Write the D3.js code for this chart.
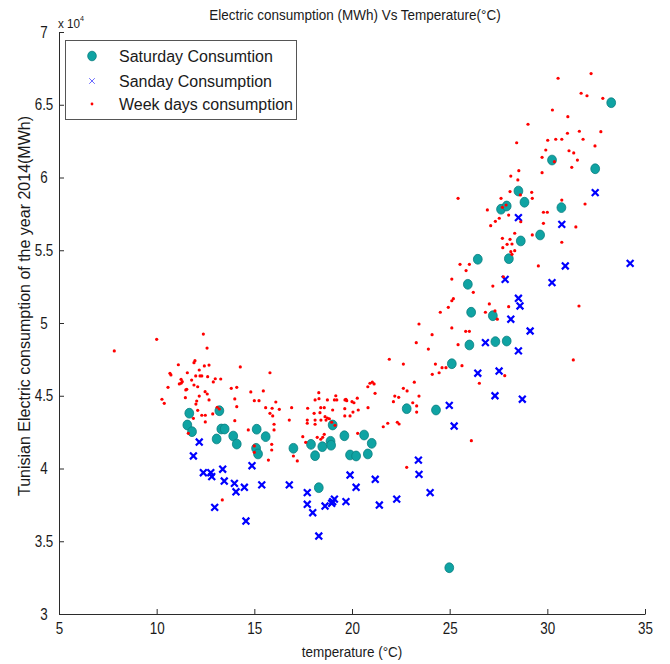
<!DOCTYPE html>
<html>
<head>
<meta charset="utf-8">
<script src="https://cdn.jsdelivr.net/npm/d3@7"></script>
<style>
  body { margin: 0; background: #fff; }
  text { font-family: "Liberation Sans", Arial, sans-serif; fill: #1a1a1a; }
</style>
</head>
<body>
<svg id="chart" width="670" height="664"></svg>
<script>
// [temperature °C, consumption MWh]
const saturday = [
  [11.67,43800],[13.21,43970],[11.57,42990],[11.81,42530],[13.31,42715],[13.48,42715],[13.07,42030],
  [13.92,42230],[14.10,41680],[15.09,41390],[15.19,41000],[15.12,42700],[15.58,42190],[17.00,41390],
  [17.90,41660],[18.11,40880],[18.48,41500],[18.90,41870],[18.93,41600],[19.01,42990],[19.61,42250],
  [18.30,38680],[19.90,40930],[20.21,40860],[20.62,42300],[21.01,41730],[20.81,41000],[22.80,44110],
  [24.30,44020],[24.98,33180],[28.52,59070],[28.83,58300],[27.63,57820],[27.92,58040],[29.63,56050],
  [28.64,55640],[26.44,54380],[28.03,54420],[25.93,52660],[26.10,50740],[27.21,50500],[26.01,48490],
  [27.34,48720],[27.92,48760],[25.11,47200],[33.27,65140],[30.24,61200],[32.45,60600],[30.72,57930]
];

const sunday = [
  [12.18,41820],[11.88,40860],[12.39,39710],[12.77,39710],[12.82,39440],[13.38,39950],[13.46,39140],
  [13.98,38980],[14.06,38400],[14.49,38710],[14.88,40190],[12.97,37330],[14.57,36390],[15.38,38870],
  [16.79,38870],[17.71,38340],[17.71,37540],[17.99,36960],[18.62,37420],[18.96,37610],[19.10,37900],
  [19.01,37720],[18.30,35360],[19.69,37720],[19.90,39550],[20.21,38710],[21.19,39260],[21.40,37490],
  [22.29,37900],[23.40,40580],[23.43,39600],[24.00,38340],[24.98,44340],[25.23,42920],[27.32,45000],
  [28.72,44760],[28.52,57240],[27.84,53000],[28.52,51700],[28.60,51170],[28.13,50260],[29.12,49450],
  [26.83,48650],[28.52,48080],[26.44,46550],[27.53,46700],[30.74,56780],[30.92,53920],[30.24,52770],
  [34.24,54100],[32.45,58960]
];

const weekdays = [
  [7.83,48080],[10.00,48880],[12.39,49240],[12.58,48280],[11.11,47130],[11.96,47410],[11.91,47270],
  [12.44,47050],[12.68,47110],[12.18,46770],[11.57,46580],[10.68,46540],[10.73,46430],[12.00,46360],
  [12.22,46360],[12.31,46360],[12.61,46310],[13.28,46150],[13.00,46170],[11.25,46130],[11.31,45970],
  [11.79,46080],[12.90,45950],[11.25,45860],[11.16,45810],[11.91,45740],[14.28,46980],[12.10,45620],
  [10.58,45580],[11.54,45440],[11.49,45400],[12.48,45280],[12.59,45120],[13.82,45510],[14.10,45580],
  [14.82,45260],[12.18,44980],[11.47,44870],[10.27,44760],[10.39,44480],[12.05,44640],[12.01,44430],
  [12.68,44710],[14.00,44780],[15.00,44660],[15.24,44660],[14.10,44250],[12.10,44000],[13.10,44210],
  [13.21,44090],[12.31,43660],[12.49,43660],[12.87,43750],[11.88,43450],[12.49,43200],[14.00,43290],
  [14.69,42650],[11.62,42420],[15.00,41550],[15.00,41110],[13.36,37840],
  [15.80,46580],[15.46,45330],[16.10,44570],[15.58,44180],[15.91,44140],[16.28,44070],[15.80,43790],
  [15.94,43610],[16.01,43040],[16.01,42650],[16.91,44180],[16.79,43330],[15.89,41660],[15.89,41270],
  [15.72,40580],[17.00,40860],[17.20,40520],[17.48,42190],[17.63,41800],[17.73,44140],[17.71,43330],
  [17.71,43110],[18.11,44710],[18.31,44800],[18.30,45210],[18.06,43790],[18.11,43330],[18.11,43040],
  [18.40,44180],[18.36,43840],[18.41,43330],[18.58,44180],[18.62,43560],[18.74,43470],[18.84,43420],
  [18.67,43330],[18.74,44710],[18.22,42140],[18.40,42010],[18.50,42140],[18.58,42350],[18.96,43180],
  [19.13,42970],[19.10,44710],[19.17,45000],[19.22,44710],[19.01,44020],[19.69,44760],[19.64,44710],
  [19.73,44660],[19.63,44110],[19.63,43610],[19.90,43610],[20.05,43880],[20.00,44590],[20.10,44520],
  [20.27,44830],[20.32,44020],[20.29,42420],[20.82,44180],[20.81,45620],[20.92,45860],[21.04,45930],
  [21.13,45810],[21.18,45170],[21.91,47510],[22.63,47180],[22.19,44980],[22.39,44890],[22.63,45510],
  [22.82,45330],[23.43,44980],[23.31,44300],[23.11,44520],[23.19,45930],[23.29,48650],[23.91,48210],
  [24.10,49200],[24.11,46470],[24.27,47180],[24.46,46580],[21.60,42870],[21.83,43110],[22.80,40080],
  [23.31,43880],[22.12,44590],[22.32,43180],[22.41,43060],[26.11,41910],[26.52,45860],
  [26.93,57770],[27.70,57950],[27.89,58110],[28.02,57420],[27.10,56690],[27.34,56990],[27.54,57200],
  [28.33,56170],[28.09,55750],[27.70,55820],[27.94,55410],[28.19,55430],[27.72,55180],[28.13,54900],
  [28.19,54720],[28.33,54970],[25.53,54030],[26.01,54030],[25.84,53600],[25.11,53020],[26.21,52110],
  [27.21,52540],[27.75,53180],[25.19,51670],[25.11,51530],[24.93,51080],[24.52,50740],[27.03,51310],
  [26.83,50740],[27.32,50830],[27.44,50260],[28.02,51120],[23.43,49930],[25.11,49660],[25.82,49430],
  [26.01,49430],[25.43,48510],[24.61,46930],[24.81,46930],[25.63,47070],[27.82,46380],[25.43,58570],
  [27.63,58570],[28.09,59030],[28.49,59830],[29.20,58980],[29.23,58570],[28.62,58800],[29.80,57610],
  [30.00,57610],[29.80,56850],[28.64,56960],[29.23,56050],[29.54,53920],[31.93,58180],[31.46,56600],
  [30.74,55550],[31.62,51170],[31.33,47460],[30.74,58450],[30.55,66820],[32.24,67140],[31.73,65790],
  [32.03,65620],[32.84,65440],[30.26,64640],[31.05,64180],[29.01,63660],[31.03,63040],[31.64,63180],
  [32.74,63150],[30.02,62560],[30.43,62630],[30.74,62630],[31.83,62630],[28.43,62390],[32.44,62170],
  [29.92,61890],[31.11,61840],[31.35,61690],[29.73,61390],[31.54,61200],[30.36,61090],[31.25,60700],
  [29.73,60330],[28.54,60470],[28.13,60100]
];

const xTicks = [5, 10, 15, 20, 25, 30, 35];
const yTicks = [30000, 35000, 40000, 45000, 50000, 55000, 60000, 65000, 70000];
const yTickLabels = ["3", "3.5", "4", "4.5", "5", "5.5", "6", "6.5", "7"];
const seriesNames = ["Saturday Consumtion", "Sanday Consumption", "Week days consumption"];
const titleText = "Electric consumption (MWh) Vs Temperature(\u00B0C)";
const xLabelText = "temperature (\u00B0C)";
const yLabelText = "Tunisian Electric consumption of the year 2014(MWh)";

const svg = d3.select("#chart");
const x = d3.scaleLinear().domain([5, 35]).range([59, 645]);
const y = d3.scaleLinear().domain([30000, 70000]).range([614, 32]);

const axisColor = "#2b2b2b";
const narrow = 0.84; // horizontal squeeze of the tick lettering

// x axis, ticks pointing inward
const gx = svg.append("g").attr("transform", `translate(0,${y(30000)})`)
  .call(d3.axisBottom(x).tickValues(xTicks).tickSize(-5).tickSizeOuter(0).tickPadding(9));
gx.selectAll("text").attr("font-size", 16).attr("fill", axisColor)
  .attr("transform", `scale(${narrow},1)`);

// y axis, ticks pointing inward
const gy = svg.append("g").attr("transform", `translate(${x(5)},0)`)
  .call(d3.axisLeft(y).tickValues(yTicks).tickSize(-5).tickSizeOuter(0)
    .tickFormat((d, i) => yTickLabels[i]));
gy.selectAll("text").attr("font-size", 16).attr("fill", axisColor)
  .attr("text-anchor", "middle").attr("x", 0)
  .attr("transform", `translate(-15,0) scale(${narrow},1)`);

[gx, gy].forEach(g => {
  g.select(".domain").attr("stroke", axisColor);
  g.selectAll(".tick line").attr("stroke", axisColor);
});

// exponent marker above the y axis
const expo = svg.append("text").attr("transform", "translate(58,28) scale(0.9,1)")
  .attr("font-size", 13).attr("fill", axisColor);
expo.append("tspan").text("x 10");
expo.append("tspan").attr("dy", -7).attr("font-size", 8).text("4");

// titles
svg.append("text").attr("transform", "translate(355,20) scale(0.9,1)").attr("text-anchor", "middle")
  .attr("font-size", 15).text(titleText);
svg.append("text").attr("transform", "translate(352,657) scale(0.9,1)").attr("text-anchor", "middle")
  .attr("font-size", 15).text(xLabelText);
svg.append("text").attr("transform", `translate(30,306) rotate(-90)`).attr("text-anchor", "middle")
  .attr("font-size", 16).text(yLabelText);

// marker painters
const satFill = "#0fa3a3", satStroke = "#0b7f80";
const sunColor = "#0000ff";
const weekColor = "#ff0000";

function cross(sel, r, w, color) {
  sel.append("path")
    .attr("d", `M${-r},${-r}L${r},${r}M${-r},${r}L${r},${-r}`)
    .attr("stroke", color).attr("stroke-width", w).attr("fill", "none");
}

// Saturday: filled circles
svg.append("g").selectAll("ellipse").data(saturday).join("ellipse")
  .attr("cx", d => x(d[0])).attr("cy", d => y(d[1]))
  .attr("rx", 4.4).attr("ry", 4.9)
  .attr("fill", satFill).attr("stroke", satStroke).attr("stroke-width", 0.8);

// Sunday: crosses
svg.append("g").selectAll("g").data(sunday).join("g")
  .attr("transform", d => `translate(${x(d[0])},${y(d[1])})`)
  .each(function () { cross(d3.select(this), 3.4, 2.2, sunColor); });

// Week days: small dots
svg.append("g").selectAll("circle").data(weekdays).join("circle")
  .attr("cx", d => x(d[0])).attr("cy", d => y(d[1]))
  .attr("r", 1.6).attr("fill", weekColor);

// legend
const lg = svg.append("g");
lg.append("rect").attr("x", 65.5).attr("y", 40.5).attr("width", 231).attr("height", 79)
  .attr("fill", "#fff").attr("stroke", "#555").attr("stroke-width", 1);
const rows = [56, 81, 104];
lg.append("ellipse").attr("cx", 92).attr("cy", rows[0]).attr("rx", 4.3).attr("ry", 4.8)
  .attr("fill", satFill).attr("stroke", satStroke).attr("stroke-width", 0.8);
const lgCross = lg.append("g").attr("transform", `translate(92,${rows[1]})`);
cross(lgCross, 2.8, 0.9, "#5a5aff");
lg.append("circle").attr("cx", 92).attr("cy", rows[2]).attr("r", 1.4).attr("fill", weekColor);
seriesNames.forEach((name, i) => {
  lg.append("text").attr("x", 119).attr("y", rows[i] + 6).attr("font-size", 16).text(name);
});
</script>
</body>
</html>
